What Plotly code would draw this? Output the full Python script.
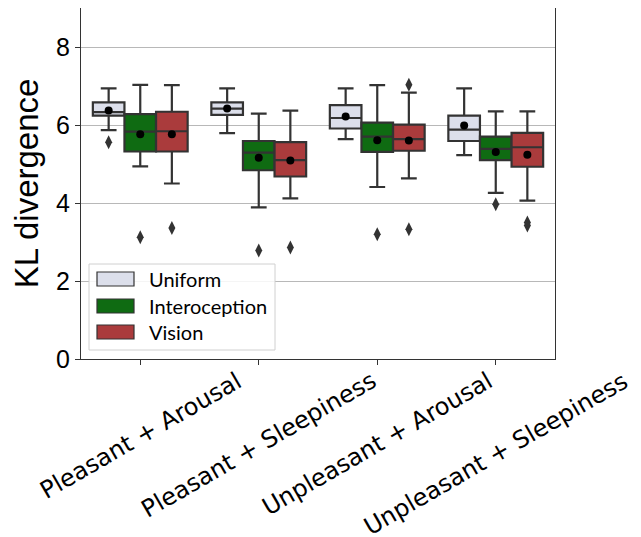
import plotly.graph_objects as go

categories = ["Pleasant + Arousal", "Pleasant + Sleepiness", "Unpleasant + Arousal", "Unpleasant + Sleepiness"]
conditions = ["Uniform", "Interoception", "Vision"]
colors = ["#dcdfeb", "#0f6b12", "#aa3b3c"]

# box statistics per condition, per category
q1 = {
    "Uniform":       [6.24, 6.26, 5.91, 5.59],
    "Interoception": [5.32, 4.84, 5.31, 5.10],
    "Vision":        [5.32, 4.68, 5.34, 4.93],
}
median = {
    "Uniform":       [6.33, 6.42, 6.18, 5.88],
    "Interoception": [5.83, 5.29, 5.70, 5.39],
    "Vision":        [5.84, 5.10, 5.64, 5.43],
}
q3 = {
    "Uniform":       [6.58, 6.58, 6.51, 6.24],
    "Interoception": [6.28, 5.59, 6.06, 5.70],
    "Vision":        [6.34, 5.56, 6.01, 5.80],
}
lower = {
    "Uniform":       [5.87, 5.79, 5.64, 5.23],
    "Interoception": [4.94, 3.89, 4.41, 4.26],
    "Vision":        [4.50, 4.12, 4.63, 4.06],
}
upper = {
    "Uniform":       [6.94, 6.94, 6.94, 6.94],
    "Interoception": [7.03, 6.29, 7.02, 6.35],
    "Vision":        [7.02, 6.37, 6.83, 6.35],
}
means = {
    "Uniform":       [6.37, 6.42, 6.22, 5.99],
    "Interoception": [5.76, 5.16, 5.61, 5.31],
    "Vision":        [5.76, 5.09, 5.60, 5.24],
}
# outliers: (category index, value)
outliers = {
    "Uniform":       [(0, 5.56)],
    "Interoception": [(0, 3.12), (1, 2.78), (2, 3.20), (3, 3.97)],
    "Vision":        [(0, 3.36), (1, 2.86), (2, 7.03), (2, 3.33), (3, 3.42), (3, 3.50)],
}
y_ticks = [0, 2, 4, 6, 8]

BW = 0.8 / 3
offsets = [-BW, 0.0, BW]
LINE = "#333333"

fig = go.Figure()

for c, cond in enumerate(conditions):
    xs = [i + offsets[c] for i in range(len(categories))]
    fig.add_trace(go.Box(
        x=xs, q1=q1[cond], median=median[cond], q3=q3[cond],
        lowerfence=lower[cond], upperfence=upper[cond],
        width=BW, whiskerwidth=0.5, boxpoints=False,
        fillcolor=colors[c], line=dict(color=LINE, width=2.2),
        name=cond, showlegend=False, hoverinfo="skip",
    ))
    fig.add_trace(go.Scatter(
        x=xs, y=means[cond], mode="markers",
        marker=dict(color="black", size=8, symbol="circle"),
        showlegend=False, hoverinfo="skip",
    ))
    ox = [k + offsets[c] for k, v in outliers[cond]]
    oy = [v for k, v in outliers[cond]]
    fig.add_trace(go.Scatter(
        x=ox, y=oy, mode="markers",
        marker=dict(color=LINE, size=10, symbol="diamond-tall"),
        showlegend=False, hoverinfo="skip",
    ))

# x tick labels (rotated, centred on tick)
for i, cat in enumerate(categories):
    fig.add_annotation(
        x=i, y=0, xref="x", yref="paper", text=cat, showarrow=False,
        textangle=-30, xanchor="center", yanchor="top", yshift=-5,
        font=dict(family="DejaVu Sans", size=24, color="black"),
    )

# page has an 8px body margin; work in figure coordinates
OFF = 8
W, H = 641 - OFF, 537 - OFF
pl, pr, pt, pb = 81 - OFF, 555 - OFF, 7 - OFF + 1, 359 - OFF
L, R, T, B = 89 - OFF, 275 - OFF, 264 - OFF, 350 - OFF

def px(x):
    return (x - pl) / (pr - pl)

def py(y):
    return (pb - y) / (pb - pt)

fig.add_shape(type="rect", xref="paper", yref="paper",
              x0=px(L), x1=px(R), y0=py(B), y1=py(T),
              fillcolor="rgba(255,255,255,0.85)", line=dict(color="#d0d0d0", width=1),
              layer="above")
rows = [279 - OFF, 306 - OFF, 332 - OFF]
for c, cond in enumerate(conditions):
    yc = rows[c]
    fig.add_shape(type="rect", xref="paper", yref="paper",
                  x0=px(97 - OFF), x1=px(134 - OFF), y0=py(yc + 7), y1=py(yc - 7),
                  fillcolor=colors[c], line=dict(color=LINE, width=1.2), layer="above")
    fig.add_annotation(x=px(147 - OFF), y=py(yc), xref="paper", yref="paper",
                       text=cond, showarrow=False, xanchor="left", yanchor="middle",
                       font=dict(family="Lato", size=20, color="black"))

fig.update_layout(
    width=W, height=H,
    margin=dict(l=pl, r=W - pr, t=pt, b=H - pb, autoexpand=False),
    plot_bgcolor="white", paper_bgcolor="white",
    boxmode="overlay", showlegend=False,
    xaxis=dict(range=[-0.5, 3.5], tickvals=list(range(4)), ticktext=[""] * 4,
               ticks="outside", ticklen=5, tickcolor="#333", showgrid=False,
               showline=True, linecolor="#333", linewidth=1.3, mirror=True,
               zeroline=False),
    yaxis=dict(range=[0, 9], tickvals=y_ticks, ticktext=[str(t) for t in y_ticks],
               ticks="outside", ticklen=5, tickcolor="#333",
               tickfont=dict(family="Liberation Sans", size=25, color="black"),
               showgrid=True, gridcolor="#b8b8b8", gridwidth=1,
               showline=True, linecolor="#333", linewidth=1.3, mirror=True,
               zeroline=False,
               title=dict(text="KL divergence", standoff=10,
                          font=dict(family="Liberation Sans", size=33, color="black"))),
)

fig.write_html("out.html")
